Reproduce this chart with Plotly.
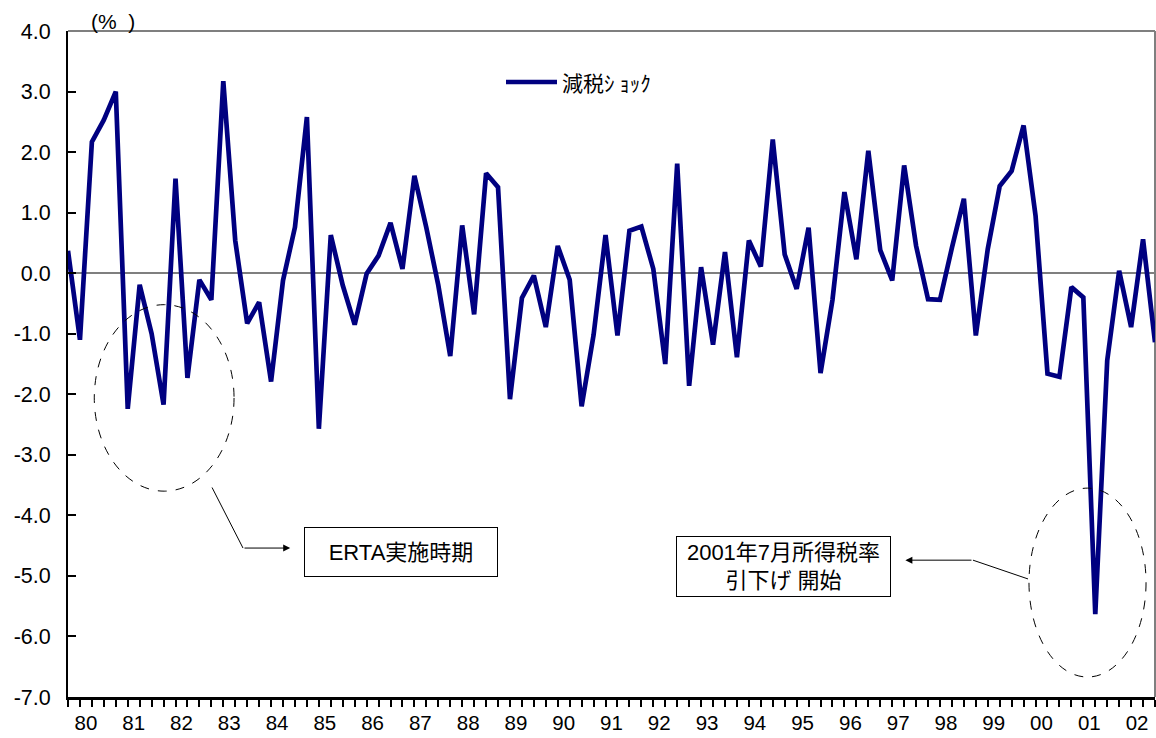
import plotly.graph_objects as go

# Quarterly tax-cut shock series, 1980Q1 - 2002Q4 (%)
shock = [
    0.37, -1.10, 2.17, 2.53,      # 1980
    3.00, -2.24, -0.19, -1.00,    # 1981
    -2.17, 1.56, -1.73, -0.11,    # 1982
    -0.44, 3.17, 0.54, -0.83,     # 1983
    -0.48, -1.79, -0.12, 0.76,    # 1984
    2.58, -2.57, 0.63, -0.20,     # 1985
    -0.85, -0.01, 0.29, 0.83,     # 1986
    0.07, 1.61, 0.75, -0.20,      # 1987
    -1.37, 0.79, -0.68, 1.65,     # 1988
    1.42, -2.08, -0.41, -0.04,    # 1989
    -0.89, 0.45, -0.11, -2.20,    # 1990
    -1.02, 0.63, -1.03, 0.70,     # 1991
    0.77, 0.07, -1.50, 1.81,      # 1992
    -1.86, 0.10, -1.18, 0.35,     # 1993
    -1.39, 0.54, 0.11, 2.21,      # 1994
    0.31, -0.26, 0.75, -1.65,     # 1995
    -0.44, 1.34, 0.23, 2.02,      # 1996
    0.38, -0.12, 1.78, 0.45,      # 1997
    -0.43, -0.44, 0.42, 1.23,     # 1998
    -1.03, 0.40, 1.44, 1.69,      # 1999
    2.44, 0.95, -1.66, -1.71,     # 2000
    -0.23, -0.40, -5.63, -1.44,   # 2001
    0.04, -0.89, 0.56, -1.14,     # 2002
]
quarter = list(range(len(shock)))

year_labels = ["80", "81", "82", "83", "84", "85", "86", "87", "88", "89",
               "90", "91", "92", "93", "94", "95", "96", "97", "98", "99",
               "00", "01", "02"]
year_centers = [4 * i + 1.5 for i in range(len(year_labels))]

y_ticks = [4, 3, 2, 1, 0, -1, -2, -3, -4, -5, -6, -7]
y_ticktext = [f"{v:.1f}" for v in y_ticks]   # plain hyphen for negatives

series_name = "減税ｼ ｮｯｸ"
note_erta = "ERTA実施時期"
note_2001 = "2001年7月所得税率<br>引下げ 開始"

FONT = "Liberation Sans, Arial, Noto Sans CJK JP"
NAVY = "#000080"

fig = go.Figure()
fig.add_trace(go.Scatter(
    x=quarter, y=shock, mode="lines", name=series_name,
    line=dict(color=NAVY, width=4.7),
    showlegend=False,
))

W, H = 1156, 738
ML, MR, MT, MB = 68, 1, 31, 41
PW, PH = W - ML - MR, H - MT - MB


def px_x(p):
    return (p - ML) / PW


def px_y(p):
    return 1 - (p - MT) / PH


fig.update_layout(
    width=W, height=H,
    margin=dict(l=ML, r=MR, t=MT, b=MB, autoexpand=False),
    paper_bgcolor="white", plot_bgcolor="white",
    font=dict(family=FONT, size=20, color="black"),
)

fig.update_xaxes(
    range=[0, len(shock) - 1], automargin=False,
    tickmode="array", tickvals=year_centers, ticktext=year_labels,
    ticks="", showgrid=False, zeroline=False,
    showline=True, linecolor="black", linewidth=2.5,
    tickfont=dict(size=20.5),
    minor=dict(ticks="outside", ticklen=7, tickwidth=1.5, tickcolor="black",
               tick0=0, dtick=1, showgrid=False),
    ticklabelstandoff=6,
)
fig.update_yaxes(
    range=[-7, 4], automargin=False,
    tickmode="array", tickvals=y_ticks, ticktext=y_ticktext,
    ticks="inside", ticklen=8, tickwidth=1.5, tickcolor="black",
    showgrid=False,
    zeroline=True, zerolinecolor="#7f7f7f", zerolinewidth=2,
    showline=True, linecolor="black", linewidth=2,
    tickfont=dict(size=21.5),
    ticklabelstandoff=11,
)

shapes = [
    # top and right frame of the plot area
    dict(type="line", xref="paper", yref="paper", x0=0, x1=1, y0=1, y1=1,
         line=dict(color="#7f7f7f", width=2), layer="below"),
    dict(type="line", xref="paper", yref="paper", x0=1, x1=1, y0=0, y1=1,
         line=dict(color="#7f7f7f", width=2), layer="below"),
    # dashed ellipses around the two episodes
    dict(type="circle", xref="x", yref="y", x0=2.2, x1=13.9, y0=-3.60, y1=-0.52,
         line=dict(color="black", width=1, dash="dash")),
    dict(type="circle", xref="x", yref="y", x0=80.45, x1=90.25, y0=-6.67, y1=-3.55,
         line=dict(color="black", width=1, dash="dash")),
    # elbow connectors
    dict(type="line", xref="x", yref="y", x0=12.06, y0=-3.54, x1=14.65, y1=-4.54,
         line=dict(color="black", width=1)),
    dict(type="line", xref="x", yref="y", x0=80.37, y0=-5.05, x1=75.76, y1=-4.74,
         line=dict(color="black", width=1)),
    # legend sample line
    dict(type="line", xref="paper", yref="paper",
         x0=px_x(506), x1=px_x(557), y0=px_y(82), y1=px_y(82),
         line=dict(color=NAVY, width=4.7)),
]
fig.update_layout(shapes=shapes)

annotations = [
    dict(text="(%  )", xref="paper", yref="paper",
         x=px_x(89), y=px_y(21),
         xanchor="left", yanchor="middle", showarrow=False, font=dict(size=21)),
    dict(text=series_name, xref="paper", yref="paper",
         x=px_x(560), y=px_y(82),
         xanchor="left", yanchor="middle", showarrow=False,
         font=dict(size=21, family="Noto Sans CJK JP")),
    # arrows
    dict(x=18.6, y=-4.54, ax=14.65, ay=-4.54, xref="x", yref="y",
         axref="x", ayref="y", text="", showarrow=True,
         arrowhead=2, arrowsize=1.4, arrowwidth=1, arrowcolor="black"),
    dict(x=70.1, y=-4.74, ax=75.76, ay=-4.74, xref="x", yref="y",
         axref="x", ayref="y", text="", showarrow=True,
         arrowhead=2, arrowsize=1.4, arrowwidth=1, arrowcolor="black"),
    # note boxes
    dict(text=note_erta, x=27.9, y=-4.61, xref="x", yref="y", showarrow=False,
         width=190, height=46, bordercolor="black", borderwidth=1, bgcolor="white",
         font=dict(size=22, family="Liberation Sans, Noto Sans CJK JP")),
    dict(text=note_2001, x=59.9, y=-4.84, xref="x", yref="y", showarrow=False,
         width=211, height=57, bordercolor="black", borderwidth=1, bgcolor="white",
         font=dict(size=22, family="Liberation Sans, Noto Sans CJK JP")),
]
fig.update_layout(annotations=annotations)

fig.write_html("out.html")
